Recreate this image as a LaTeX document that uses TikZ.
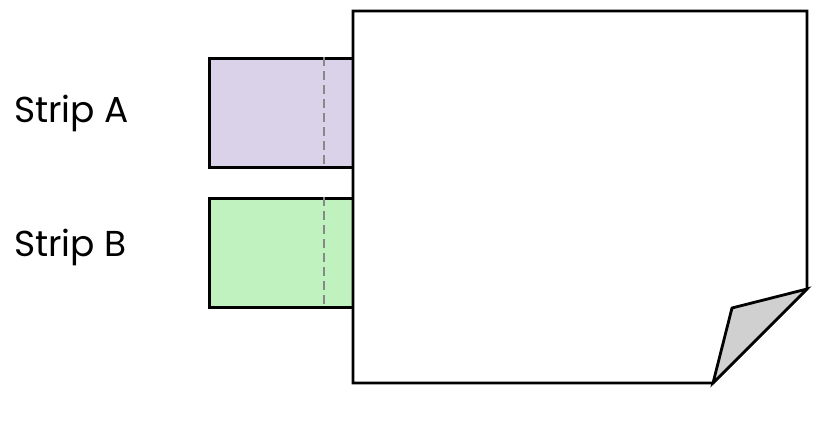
\documentclass[tikz,border=0pt]{standalone}
\usepackage{fontspec}
\setmainfont{Poppins}
\definecolor{stripA}{HTML}{D9D2E9}
\definecolor{stripB}{HTML}{C0F2C0}
\definecolor{foldgray}{HTML}{D0D0D0}
\definecolor{dashgray}{HTML}{888888}
\begin{document}
\begin{tikzpicture}[x=1pt,y=-1pt,
  outline/.style={draw=black,line width=2.8pt,line join=miter},
  stripbox/.style={outline,minimum width=145pt,minimum height=109pt,inner sep=0pt,anchor=north west},
  lbl/.style={font=\fontsize{36}{42}\selectfont,anchor=base west,inner sep=0pt},
  fold/.style={draw=dashgray,line width=1.6pt,dash pattern=on 9pt off 5pt}]
\useasboundingbox (0,0) rectangle (828,431);
\node[stripbox,fill=stripA] (sa) at (208,57) {};
\node[stripbox,fill=stripB] (sb) at (208,197) {};
\draw[fold] (324,57) -- (324,166);
\draw[fold] (324,197) -- (324,306);
\coordinate (p1) at (353,11);
\coordinate (p2) at (807,11);
\coordinate (p3) at (807,289);
\coordinate (p4) at (713,383);
\coordinate (p5) at (353,383);
\coordinate (f1) at (732,308);
\draw[outline,fill=white] (p1) -- (p2) -- (p3) -- (p4) -- (p5) -- cycle;
\draw[outline,fill=foldgray] (p3) -- (f1) -- (p4) -- cycle;
\node[lbl] (la) at (14,122) {Strip A};
\node[lbl] (lb) at (14,256) {Strip B};
\end{tikzpicture}
\end{document}
